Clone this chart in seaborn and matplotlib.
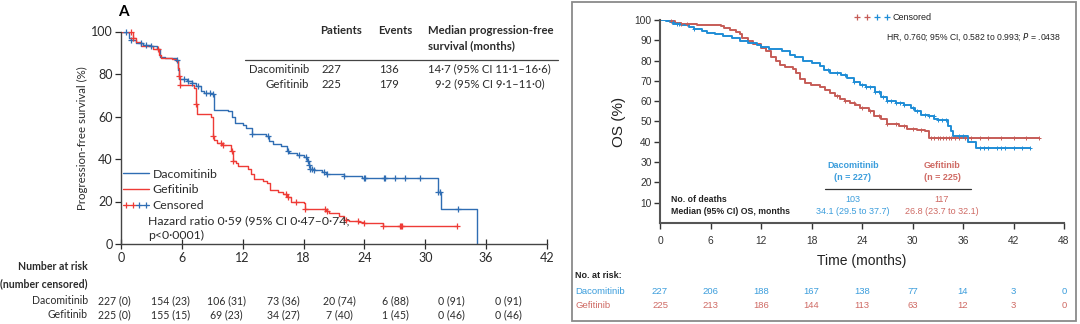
import numpy as np
import matplotlib
matplotlib.use("Agg")
import matplotlib.pyplot as plt
import seaborn as sns
from matplotlib.lines import Line2D
from matplotlib.patches import Rectangle
from matplotlib.legend_handler import HandlerTuple
import matplotlib.transforms as mtransforms

# ---------------- Panel A: progression-free survival ----------------
pfs_daco_t = [0, 0.8, 1.0, 1.5, 2.2, 3.0, 3.5, 3.8, 4.3, 5.4, 5.6, 5.7, 6.5, 7.0, 7.4, 7.9, 8.2,
              9.0, 9.2, 10.5, 10.9, 11.2, 12.0, 12.3, 12.9, 14.3, 14.6, 15.0, 15.8, 16.4, 16.6,
              17.4, 18.0, 18.3, 18.5, 18.6, 19.0, 19.8, 20.2, 22.0, 23.8, 31.3, 31.5, 35.1]
pfs_daco_s = [100, 97, 96, 94.5, 93.5, 93, 92, 88, 87.5, 86.5, 82, 77.5, 76.5, 76, 74.5, 72, 71,
              70.5, 63, 62.5, 60, 57, 56, 54.5, 52, 51, 48.5, 47, 46, 44, 43,
              42, 41, 39, 37, 35.5, 35, 34, 33, 32, 31, 24.5, 16.5, 0]
pfs_daco_cens = [0.5, 1.0, 2.0, 2.5, 3.0, 5.5, 6.2, 6.6, 7.0, 7.6, 8.4, 8.8, 9.1, 12.9, 14.5,
                 16.5, 17.5, 18.2, 18.4, 18.5, 18.6, 18.8, 19.0, 20.0, 20.3, 22.0, 24.0, 24.1,
                 25.9, 26.0, 27.0, 28.0, 29.5, 31.3, 31.45, 33.2]

pfs_gefi_t = [0, 1.2, 1.5, 2.0, 3.2, 3.7, 3.9, 5.0, 5.4, 5.6, 5.7, 5.8, 7.2, 7.4, 7.5, 8.9, 9.1,
              9.2, 9.5, 10.0, 10.8, 11.0, 11.3, 11.5, 12.5, 12.8, 13.1, 14.0, 14.4, 14.7, 15.5,
              16.0, 16.4, 16.8, 18.0, 18.1, 20.2, 20.5, 21.5, 22.0, 22.5, 23.5, 24.0, 25.8, 33.1]
pfs_gefi_s = [100, 97, 95, 93, 92, 89, 87.5, 87, 86, 83, 79, 75, 73.5, 66, 61, 60, 51,
              49, 47.5, 46.5, 44, 39, 38, 36.5, 35.5, 33, 30.5, 29.5, 28.5, 25.5, 24.5,
              23.5, 22, 20, 19.5, 16.5, 15.5, 14.5, 13, 11.5, 11, 10.5, 10, 8.5, 8.5]
pfs_gefi_cens = [1.0, 1.2, 3.6, 5.7, 5.8, 7.4, 9.1, 9.9, 10.1, 10.9, 11.0, 16.3, 16.5, 17.3,
                 18.1, 20.1, 20.3, 22.2, 23.4, 24.0, 25.8, 27.5, 27.6, 27.7, 33.1]

pfs_xticks = [0, 6, 12, 18, 24, 30, 36, 42]
pfs_yticks = [0, 20, 40, 60, 80, 100]
pfs_risk_daco = ["227 (0)", "154 (23)", "106 (31)", "73 (36)", "20 (74)", "6 (88)", "0 (91)", "0 (91)"]
pfs_risk_gefi = ["225 (0)", "155 (15)", "69 (23)", "34 (27)", "7 (40)", "1 (45)", "0 (46)", "0 (46)"]
pfs_table_arms = ["Dacomitinib", "Gefitinib"]
pfs_table_patients = ["227", "225"]
pfs_table_events = ["136", "179"]
pfs_table_median = ["14·7 (95% CI 11·1–16·6)", "9·2 (95% CI 9·1–11·0)"]

# ---------------- Panel B: overall survival ----------------
os_daco_t = [0, 0.7, 1.2, 1.6, 2.5, 3.5, 4.0, 5.0, 5.6, 6.5, 7.5, 8.5, 9.5, 10.5, 11.5, 12.0,
             13.0, 14.5, 15.5, 16.0, 17.0, 18.0, 19.0, 19.5, 20.2, 21.5, 22.2, 23.0, 23.8,
             24.5, 25.5, 26.2, 27.0, 28.0, 29.0, 29.8, 30.3, 31.0, 32.0, 32.6, 33.0, 34.2,
             34.6, 34.8, 36.6, 37.5, 44.0]
os_daco_s = [100, 99.5, 99, 98, 97.5, 96.5, 95.5, 94.5, 93.5, 93, 92, 91, 89.5, 88.5, 87.7, 86.5,
             85.5, 84.5, 83, 82, 80, 79, 77.5, 75.5, 74, 73, 71.5, 69.5, 68,
             67, 64.5, 62, 60, 59, 58, 56.5, 55, 53, 52.5, 51, 50.5, 48,
             45.5, 43, 40, 36.8, 36.8]
os_daco_cens = [1.5, 2.0, 2.2, 4.0, 20.0, 21.0, 22.0, 23.0, 24.0, 24.5, 25.0, 25.5, 26.0, 26.5,
                27.0, 27.5, 28.0, 28.5, 29.0, 30.0, 30.5, 31.5, 32.0, 32.5, 33.0, 33.5, 34.0,
                35.5, 36.0, 38.0, 38.5, 39.0, 40.0, 40.5, 41.0, 42.0, 43.0, 44.0]

os_gefi_t = [0, 1.0, 1.8, 2.5, 4.4, 7.2, 7.6, 8.3, 9.0, 9.5, 9.7, 10.5, 11.0, 12.0, 12.6, 13.2,
             13.8, 14.3, 14.8, 15.8, 16.2, 16.6, 17.2, 17.9, 19.0, 19.6, 20.2, 20.8, 21.4,
             22.0, 22.6, 23.2, 23.8, 24.8, 25.4, 26.2, 27.0, 28.4, 29.4, 30.5, 31.5, 32.0, 45.0]
os_gefi_s = [100, 99.5, 98.5, 98, 97.5, 97, 96, 95, 94, 93, 91, 89.5, 88, 86, 84.5, 82,
             80, 78, 77, 76, 74, 71, 69, 68, 67, 65.5, 64, 62.5, 61,
             60, 59, 58, 56.5, 55, 52.5, 51, 49, 48, 46.5, 45.8, 45.5, 42, 42]
os_gefi_cens = [1.3, 2.5, 3.2, 21.0, 22.0, 23.0, 24.0, 25.0, 26.0, 27.0, 28.0, 29.0, 30.0,
                31.0, 32.2, 32.5, 33.0, 33.3, 33.6, 34.0, 34.3, 34.6, 35.0, 35.5, 36.2, 37.0,
                38.0, 39.0, 40.5, 42.0, 43.5, 45.0]

os_xticks = [0, 6, 12, 18, 24, 30, 36, 42, 48]
os_yticks = [10, 20, 30, 40, 50, 60, 70, 80, 90, 100]
os_risk_daco = ["227", "206", "188", "167", "138", "77", "14", "3", "0"]
os_risk_gefi = ["225", "213", "186", "144", "113", "63", "12", "3", "0"]
os_deaths = ["103", "117"]
os_median = ["34.1 (29.5 to 37.7)", "26.8 (23.7 to 32.1)"]
os_arm_n = ["(n = 227)", "(n = 225)"]

# ---------------- styling ----------------
sns.set_theme(style="ticks")
plt.rcParams["font.family"] = ["Lato", "DejaVu Sans"]
plt.rcParams["axes.linewidth"] = 1.0

W, H = 1080, 324
fig = plt.figure(figsize=(W / 100, H / 100), dpi=100)


def fx(px):
    return px / W


def fy(py):
    return 1 - py / H


def step_value(times, surv, t):
    idx = np.searchsorted(times, t, side="right") - 1
    return np.asarray(surv)[np.clip(idx, 0, len(surv) - 1)]


def censor_key(red, blue, ls, ms):
    """Four '+' ticks (two per arm) used as the 'Censored' legend key."""
    mk = lambda c: Line2D([], [], color=c, marker="+", ls=ls, lw=0.8, ms=ms, mew=0.9)
    return (mk(red), mk(red), mk(blue), mk(blue))


A_BLUE = "#2f6db3"
A_RED = "#ee3b36"
B_BLUE = "#1f8dd6"
B_RED = "#c65c57"
B_BLUE_TXT = "#3b9ddc"
B_RED_TXT = "#cf6a64"
DARK = "#2b2b2b"
TXT_A = 8.2
RISK_A = 7.6

# ======== Panel A ========
axA = fig.add_axes([fx(121), fy(244), fx(547) - fx(121), fy(31.5) - fy(244)])
for t, s, cens, col in [(pfs_daco_t, pfs_daco_s, pfs_daco_cens, A_BLUE),
                        (pfs_gefi_t, pfs_gefi_s, pfs_gefi_cens, A_RED)]:
    sns.lineplot(x=t, y=s, drawstyle="steps-post", color=col, lw=1.0, ax=axA,
                 estimator=None, sort=False)
    cy = step_value(t, s, np.array(cens))
    sns.scatterplot(x=cens, y=cy, marker="+", s=22, color=col, linewidth=0.9,
                    ax=axA, clip_on=False, zorder=3)

axA.set_xlim(0, 42)
axA.set_ylim(0, 100)
axA.set_xticks(pfs_xticks)
axA.set_yticks(pfs_yticks)
axA.tick_params(axis="x", direction="inout", length=7, width=0.9, labelsize=9, pad=2,
                colors=DARK)
axA.tick_params(axis="y", direction="out", length=4, width=0.9, labelsize=9, pad=2,
                colors=DARK)
for sp in ["top", "right"]:
    axA.spines[sp].set_visible(False)
for sp in ["left", "bottom"]:
    axA.spines[sp].set_color("#444444")
axA.set_ylabel("Progression-free survival (%)", fontsize=8.3, color=DARK, labelpad=2)
axA.set_xlabel("")

handlesA = [Line2D([], [], color=A_BLUE, lw=1.0), Line2D([], [], color=A_RED, lw=1.0),
            censor_key(A_RED, A_BLUE, "-", 5)]
legA = axA.legend(handlesA, ["Dacomitinib", "Gefitinib", "Censored"],
                  handler_map={tuple: HandlerTuple(ndivide=None, pad=0)},
                  loc="upper left", bbox_to_anchor=(0.005, 0.355), frameon=False,
                  fontsize=8.8, handlelength=2.1, handletextpad=0.3, labelspacing=0.4,
                  borderaxespad=0, borderpad=0, numpoints=1)
for txt in legA.get_texts():
    txt.set_color(DARK)

fig.text(fx(148), fy(221), "Hazard ratio 0·59 (95% CI 0·47–0·74;", fontsize=8.8,
         color=DARK, va="center", ha="left")
fig.text(fx(148), fy(235), "p<0·0001)", fontsize=8.8, color=DARK, va="center", ha="left")
fig.text(fx(118), fy(12), "A", fontsize=11, fontweight="bold", color="black",
         va="center", ha="left")

# table of arms
fig.text(fx(320), fy(31), "Patients", fontsize=TXT_A, fontweight="bold", color=DARK, va="center")
fig.text(fx(378), fy(31), "Events", fontsize=TXT_A, fontweight="bold", color=DARK, va="center")
fig.text(fx(428), fy(31), "Median progression-free", fontsize=TXT_A, fontweight="bold",
         color=DARK, va="center")
fig.text(fx(428), fy(46), "survival (months)", fontsize=TXT_A, fontweight="bold",
         color=DARK, va="center")
fig.add_artist(Line2D([fx(245), fx(558)], [fy(59.5), fy(59.5)], color="#444444", lw=0.9))
for i, yy in enumerate([69, 84]):
    fig.text(fx(309), fy(yy), pfs_table_arms[i], fontsize=TXT_A, color=DARK, va="center", ha="right")
    fig.text(fx(321), fy(yy), pfs_table_patients[i], fontsize=TXT_A, color=DARK, va="center")
    fig.text(fx(379), fy(yy), pfs_table_events[i], fontsize=TXT_A, color=DARK, va="center")
    fig.text(fx(428 if i == 0 else 435), fy(yy), pfs_table_median[i], fontsize=TXT_A,
             color=DARK, va="center")

# number at risk
fig.text(fx(88), fy(267), "Number at risk", fontsize=RISK_A, fontweight="bold", color=DARK,
         va="center", ha="right")
fig.text(fx(88), fy(284), "(number censored)", fontsize=RISK_A, fontweight="bold", color=DARK,
         va="center", ha="right")
fig.text(fx(88), fy(301), "Dacomitinib", fontsize=RISK_A, color=DARK, va="center", ha="right")
fig.text(fx(88), fy(315), "Gefitinib", fontsize=RISK_A, color=DARK, va="center", ha="right")
for i in range(len(pfs_xticks)):
    cx = 114 + i * 56.3
    fig.text(fx(cx), fy(301), pfs_risk_daco[i], fontsize=RISK_A, color=DARK, va="center", ha="center")
    fig.text(fx(cx), fy(315), pfs_risk_gefi[i], fontsize=RISK_A, color=DARK, va="center", ha="center")

# ======== Panel B ========
RFONT = ["Liberation Sans", "DejaVu Sans"]
fig.add_artist(Rectangle((fx(572), fy(321)), fx(1076) - fx(572), fy(2) - fy(321),
                         transform=fig.transFigure, fill=False, edgecolor="#8a8a8a", lw=1.3))

axB = fig.add_axes([fx(660), fy(223), fx(1064) - fx(660), fy(20) - fy(223)])
for t, s, cens, col in [(os_gefi_t, os_gefi_s, os_gefi_cens, B_RED),
                        (os_daco_t, os_daco_s, os_daco_cens, B_BLUE)]:
    sns.lineplot(x=t, y=s, drawstyle="steps-post", color=col, lw=1.4, ax=axB,
                 estimator=None, sort=False)
    cy = step_value(t, s, np.array(cens))
    sns.scatterplot(x=cens, y=cy, marker="+", s=12, color=col, linewidth=0.7,
                    ax=axB, clip_on=False, zorder=3)

axB.set_xlim(0, 48)
axB.set_ylim(0, 100)
axB.set_xticks(os_xticks)
axB.set_yticks(os_yticks)
for sp in ["top", "right"]:
    axB.spines[sp].set_visible(False)
for sp in ["left", "bottom"]:
    axB.spines[sp].set_color("#555555")
    axB.spines[sp].set_linewidth(1.5)
axB.tick_params(axis="both", direction="out", length=4, width=1.0, labelsize=7.4,
                colors="#333333")
axB.tick_params(axis="x", pad=5)
axB.tick_params(axis="y", pad=2)
for lab in axB.get_xticklabels() + axB.get_yticklabels():
    lab.set_fontfamily(RFONT)
axB.set_ylabel("OS (%)", fontsize=11, color="#222222", family=RFONT, labelpad=6)
axB.set_xlabel("Time (months)", fontsize=10, color="#222222", family=RFONT, labelpad=6)

legB = axB.legend([censor_key(B_RED, B_BLUE, "none", 4)], ["Censored"],
                  handler_map={tuple: HandlerTuple(ndivide=None, pad=0)},
                  loc="upper left", bbox_to_anchor=(0.475, 1.035), frameon=False,
                  prop={"family": RFONT, "size": 6.5}, handlelength=4.4,
                  handletextpad=0.1, borderaxespad=0, borderpad=0, numpoints=1)
for txt in legB.get_texts():
    txt.set_color("#222222")

fig.text(fx(886), fy(37), "HR, 0.760; 95% CI, 0.582 to 0.993; $\\it{P}$ = .0438", fontsize=6.2,
         family=RFONT, color="#222222", va="center", ha="left")

# summary table
for i, (name, col, cx) in enumerate([("Dacomitinib", B_BLUE_TXT, 853), ("Gefitinib", B_RED_TXT, 942)]):
    fig.text(fx(cx), fy(165), name, fontsize=6.5, fontweight="bold", family=RFONT,
             color=col, va="center", ha="center")
    fig.text(fx(cx), fy(178), os_arm_n[i], fontsize=6.5, fontweight="bold", family=RFONT,
             color=col, va="center", ha="center")
    fig.text(fx(cx), fy(200), os_deaths[i], fontsize=6.5, family=RFONT, color=col,
             va="center", ha="center")
    fig.text(fx(cx), fy(212), os_median[i], fontsize=6.5, family=RFONT, color=col,
             va="center", ha="center")
fig.add_artist(Line2D([fx(825), fx(971)], [fy(188.5), fy(188.5)], color="#333333", lw=0.9))
fig.text(fx(671), fy(200), "No. of deaths", fontsize=6.3, fontweight="bold", family=RFONT,
         color="#222222", va="center", ha="left")
fig.text(fx(671), fy(212), "Median (95% CI) OS, months", fontsize=6.3, fontweight="bold",
         family=RFONT, color="#222222", va="center", ha="left")

# number at risk
fig.text(fx(575), fy(276), "No. at risk:", fontsize=6.5, fontweight="bold", family=RFONT,
         color="#222222", va="center", ha="left")
fig.text(fx(575), fy(291), "Dacomitinib", fontsize=6.8, family=RFONT, color=B_BLUE_TXT,
         va="center", ha="left")
fig.text(fx(575), fy(306), "Gefitinib", fontsize=6.8, family=RFONT, color=B_RED_TXT,
         va="center", ha="left")
blend = mtransforms.blended_transform_factory(axB.transData, fig.transFigure)
for i, t in enumerate(os_xticks):
    axB.text(t, fy(291), os_risk_daco[i], transform=blend, fontsize=6.8, family=RFONT,
             color=B_BLUE_TXT, va="center", ha="center", clip_on=False)
    axB.text(t, fy(306), os_risk_gefi[i], transform=blend, fontsize=6.8, family=RFONT,
             color=B_RED_TXT, va="center", ha="center", clip_on=False)

fig.savefig("out.png", dpi=100)
